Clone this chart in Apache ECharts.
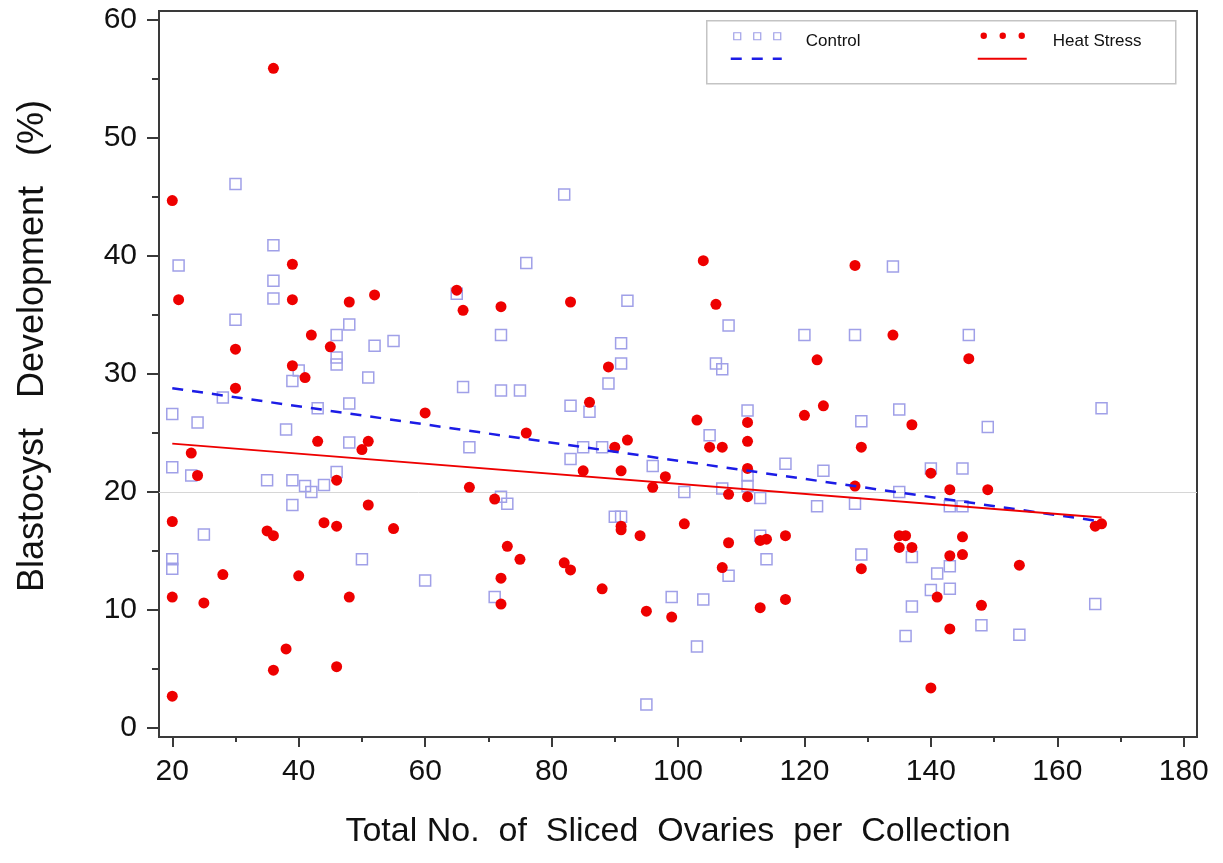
<!DOCTYPE html>
<html>
<head>
<meta charset="utf-8">
<script src="https://cdn.jsdelivr.net/npm/echarts@6/dist/echarts.min.js"></script>
<style>
  html, body { margin: 0; padding: 0; background: #ffffff; }
  #chart { width: 1223px; height: 863px; }
</style>
</head>
<body>
<div id="chart"></div>
<script>
// Control group: ovaries sliced per collection vs. blastocyst rate (%)
const controlX = [30, 36, 21, 36, 36, 30, 48, 46, 52, 55, 46, 46, 40, 39, 51, 28, 43, 48, 20, 24, 38, 48, 20, 23, 35, 39, 41, 42, 44, 46, 39, 25, 20, 20, 50, 60,
  82, 76, 65, 92, 108, 72, 91, 91, 106, 107, 89, 66, 72, 75, 83, 86, 105, 67, 85, 88, 83, 96, 101, 107, 72, 73,
  90, 91, 71, 99, 104, 103, 95,
  134, 120, 128, 146, 111, 135, 129, 149, 117, 123, 111, 111, 140, 145, 113, 135, 122, 128, 143, 145,
  113, 114, 129, 137, 141, 143, 140, 143, 137, 136, 148, 154, 108, 166, 167];
const controlY = [46.1, 40.9, 39.2, 37.9, 36.4, 34.6, 34.2, 33.3, 32.4, 32.8, 31.4, 30.8, 30.3, 29.4, 29.7, 28.0, 27.1, 27.5, 26.6, 25.9, 25.3, 24.2, 22.1, 21.4, 21.0, 21.0, 20.5, 20.0, 20.6, 21.7, 18.9, 16.4, 14.3, 13.5, 14.3, 12.5,
  45.2, 39.4, 36.8, 36.2, 34.1, 33.3, 32.6, 30.9, 30.9, 30.4, 29.2, 28.9, 28.6, 28.6, 27.3, 26.8, 24.8, 23.8, 23.8, 23.8, 22.8, 22.2, 20.0, 20.3, 19.6, 19.0,
  17.9, 17.9, 11.1, 11.1, 10.9, 6.9, 2.0,
  39.1, 33.3, 33.3, 33.3, 26.9, 27.0, 26.0, 25.5, 22.4, 21.8, 21.4, 20.5, 22.0, 22.0, 19.5, 20.0, 18.8, 19.0, 18.8, 18.8,
  16.3, 14.3, 14.7, 14.5, 13.1, 13.7, 11.7, 11.8, 10.3, 7.8, 8.7, 7.9, 12.9, 10.5, 27.1];

// Heat stress group
const heatX = [20, 20, 20, 20, 21, 23, 24, 25, 28, 30, 30, 35, 36, 36, 36, 38, 39, 39, 39, 41, 40, 42, 43, 44, 45, 46, 46, 46, 48, 48, 50, 51, 51, 52, 55, 60,
  65, 66, 72, 67, 71, 76, 83, 86, 89, 90, 92, 85, 91, 96, 98, 104, 106, 103, 105, 107, 108,
  73, 75, 72, 72, 82, 83, 88, 91, 91, 94, 101, 95, 99, 108, 107,
  128, 134, 122, 146, 123, 120, 111, 111, 137, 129, 111, 140, 128, 143, 149, 111,
  113, 114, 117, 113, 117, 129, 135, 136, 135, 137, 143, 145, 145, 141, 143, 148, 140, 154, 166, 167];
const heatY = [2.7, 11.1, 17.5, 44.7, 36.3, 23.3, 21.4, 10.6, 13.0, 28.8, 32.1, 16.7, 16.3, 4.9, 55.9, 6.7, 39.3, 36.3, 30.7, 29.7, 12.9, 33.3, 24.3, 17.4, 32.3, 17.1, 21.0, 5.2, 11.1, 36.1, 23.6, 24.3, 18.9, 36.7, 16.9, 26.7,
  37.1, 35.4, 35.7, 20.4, 19.4, 25.0, 36.1, 27.6, 30.6, 23.8, 24.4, 21.8, 21.8, 20.4, 21.3, 39.6, 35.9, 26.1, 23.8, 23.8, 19.8,
  15.4, 14.3, 12.7, 10.5, 14.0, 13.4, 11.8, 17.1, 16.8, 16.3, 17.3, 9.9, 9.4, 15.7, 13.6,
  39.2, 33.3, 31.2, 31.3, 27.3, 26.5, 25.9, 24.3, 25.7, 23.8, 22.0, 21.6, 20.5, 20.2, 20.2, 19.6,
  15.9, 16.0, 16.3, 10.2, 10.9, 13.5, 16.3, 16.3, 15.3, 15.3, 14.6, 14.7, 16.2, 11.1, 8.4, 10.4, 3.4, 13.8, 17.1, 17.3];

// Fitted regression lines (end points of each fit)
const controlFitX = [20, 167];
const controlFitY = [28.8, 17.5];
const heatFitX = [20, 167];
const heatFitY = [24.1, 17.85];

// Axis ticks
const xTicks = [20, 40, 60, 80, 100, 120, 140, 160, 180];
const xMinorTicks = [30, 50, 70, 90, 110, 130, 150, 170];
const yTicks = [0, 10, 20, 30, 40, 50, 60];
const yMinorTicks = [5, 15, 25, 35, 45, 55];
const referenceY = 20;

const zip = (xs, ys) => xs.map((x, i) => [x, ys[i]]);

const FONT = 'Liberation Sans, Arial, Helvetica, sans-serif';
const AXIS_COLOR = '#3a3a3a';
const X_MIN = 17.9, X_MAX = 182.1, Y_MIN = -0.76, Y_MAX = 60.76;

const chart = echarts.init(document.getElementById('chart'), null, { renderer: 'canvas' });

const majorX = {
  type: 'value', gridIndex: 0, position: 'bottom', min: X_MIN, max: X_MAX,
  axisLine: { show: true, onZero: false, lineStyle: { color: AXIS_COLOR, width: 2 } },
  axisTick: { show: true, customValues: xTicks, length: 10, lineStyle: { color: AXIS_COLOR, width: 2 } },
  axisLabel: { show: true, customValues: xTicks, margin: 20, fontSize: 30, color: '#111', fontFamily: FONT },
  splitLine: { show: false },
  name: 'Total No.  of  Sliced  Ovaries  per  Collection',
  nameLocation: 'middle', nameGap: 78,
  nameTextStyle: { fontSize: 34, color: '#111', fontFamily: FONT }
};
const minorX = {
  type: 'value', gridIndex: 0, position: 'bottom', min: X_MIN, max: X_MAX,
  axisLine: { show: false, onZero: false },
  axisTick: { show: true, customValues: xMinorTicks, length: 5, lineStyle: { color: AXIS_COLOR, width: 2 } },
  axisLabel: { show: false },
  splitLine: { show: false }
};
const majorY = {
  type: 'value', gridIndex: 0, position: 'left', min: Y_MIN, max: Y_MAX,
  axisLine: { show: true, onZero: false, lineStyle: { color: AXIS_COLOR, width: 2 } },
  axisTick: { show: true, customValues: yTicks, length: 12, lineStyle: { color: AXIS_COLOR, width: 2 } },
  axisLabel: { show: true, customValues: yTicks, margin: 22, fontSize: 30, color: '#111', fontFamily: FONT },
  splitLine: { show: false },
  name: 'Blastocyst   Development   (%)',
  nameLocation: 'middle', nameRotate: 90, nameGap: 108,
  nameTextStyle: { fontSize: 36, color: '#111', fontFamily: FONT, padding: [0, 0, 0, 56] }
};
const minorY = {
  type: 'value', gridIndex: 0, position: 'left', min: Y_MIN, max: Y_MAX,
  axisLine: { show: false, onZero: false },
  axisTick: { show: true, customValues: yMinorTicks, length: 7, lineStyle: { color: AXIS_COLOR, width: 2 } },
  axisLabel: { show: false },
  splitLine: { show: false }
};

// Legend box drawn as a small graphic group
const CTRL_COLOR = '#a0a0e8';
const HEAT_COLOR = '#ee0000';
const FIT_BLUE = '#1c1ce6';
const legendGraphic = {
  type: 'group', left: 706, top: 20, silent: true,
  children: [
    { type: 'rect', shape: { x: 0, y: 0, width: 469, height: 63 }, style: { fill: '#fff', stroke: '#c4c4c4', lineWidth: 1.5 } },
    { type: 'rect', shape: { x: 27, y: 12, width: 7, height: 7 }, style: { fill: 'none', stroke: CTRL_COLOR, lineWidth: 1.2 } },
    { type: 'rect', shape: { x: 47, y: 12, width: 7, height: 7 }, style: { fill: 'none', stroke: CTRL_COLOR, lineWidth: 1.2 } },
    { type: 'rect', shape: { x: 67, y: 12, width: 7, height: 7 }, style: { fill: 'none', stroke: CTRL_COLOR, lineWidth: 1.2 } },
    { type: 'line', shape: { x1: 24, y1: 38, x2: 75, y2: 38 }, style: { stroke: FIT_BLUE, lineWidth: 2.5, lineDash: [11, 10] } },
    { type: 'text', x: 99, y: 21, style: { text: 'Control', fontSize: 17, fontFamily: FONT, fill: '#111', verticalAlign: 'middle' } },
    { type: 'circle', shape: { cx: 277, cy: 15, r: 3.2 }, style: { fill: HEAT_COLOR } },
    { type: 'circle', shape: { cx: 296, cy: 15, r: 3.2 }, style: { fill: HEAT_COLOR } },
    { type: 'circle', shape: { cx: 315, cy: 15, r: 3.2 }, style: { fill: HEAT_COLOR } },
    { type: 'line', shape: { x1: 271, y1: 38, x2: 320, y2: 38 }, style: { stroke: HEAT_COLOR, lineWidth: 2 } },
    { type: 'text', x: 346, y: 21, style: { text: 'Heat Stress', fontSize: 17, fontFamily: FONT, fill: '#111', verticalAlign: 'middle' } }
  ]
};

const option = {
  animation: false,
  backgroundColor: '#ffffff',
  grid: {
    left: 159, right: 26, top: 11, bottom: 126,
    containLabel: false, outerBoundsMode: 'none',
    show: true, borderColor: AXIS_COLOR, borderWidth: 2, backgroundColor: 'transparent'
  },
  xAxis: [majorX, minorX],
  yAxis: [majorY, minorY],
  graphic: [legendGraphic],
  series: [
    {
      name: 'Control', type: 'scatter', xAxisIndex: 0, yAxisIndex: 0,
      data: zip(controlX, controlY),
      symbol: 'rect', symbolSize: 11,
      itemStyle: { color: 'rgba(255,255,255,0)', borderColor: CTRL_COLOR, borderWidth: 1.5, opacity: 1 },
      z: 3,
      markLine: {
        silent: true, symbol: 'none', label: { show: false },
        lineStyle: { color: '#d6d6d6', width: 1, type: 'solid' },
        data: [{ yAxis: referenceY }],
        z: 1
      }
    },
    {
      name: 'Heat Stress', type: 'scatter', xAxisIndex: 0, yAxisIndex: 0,
      data: zip(heatX, heatY),
      symbol: 'circle', symbolSize: 11,
      itemStyle: { color: HEAT_COLOR, opacity: 1 },
      z: 4
    },
    {
      name: 'Control fit', type: 'line', xAxisIndex: 0, yAxisIndex: 0,
      data: zip(controlFitX, controlFitY),
      showSymbol: false, symbol: 'none',
      lineStyle: { color: FIT_BLUE, width: 2.5, type: [11, 9] },
      z: 5
    },
    {
      name: 'Heat Stress fit', type: 'line', xAxisIndex: 0, yAxisIndex: 0,
      data: zip(heatFitX, heatFitY),
      showSymbol: false, symbol: 'none',
      lineStyle: { color: HEAT_COLOR, width: 2 },
      z: 5
    }
  ]
};

chart.setOption(option);
</script>
</body>
</html>
